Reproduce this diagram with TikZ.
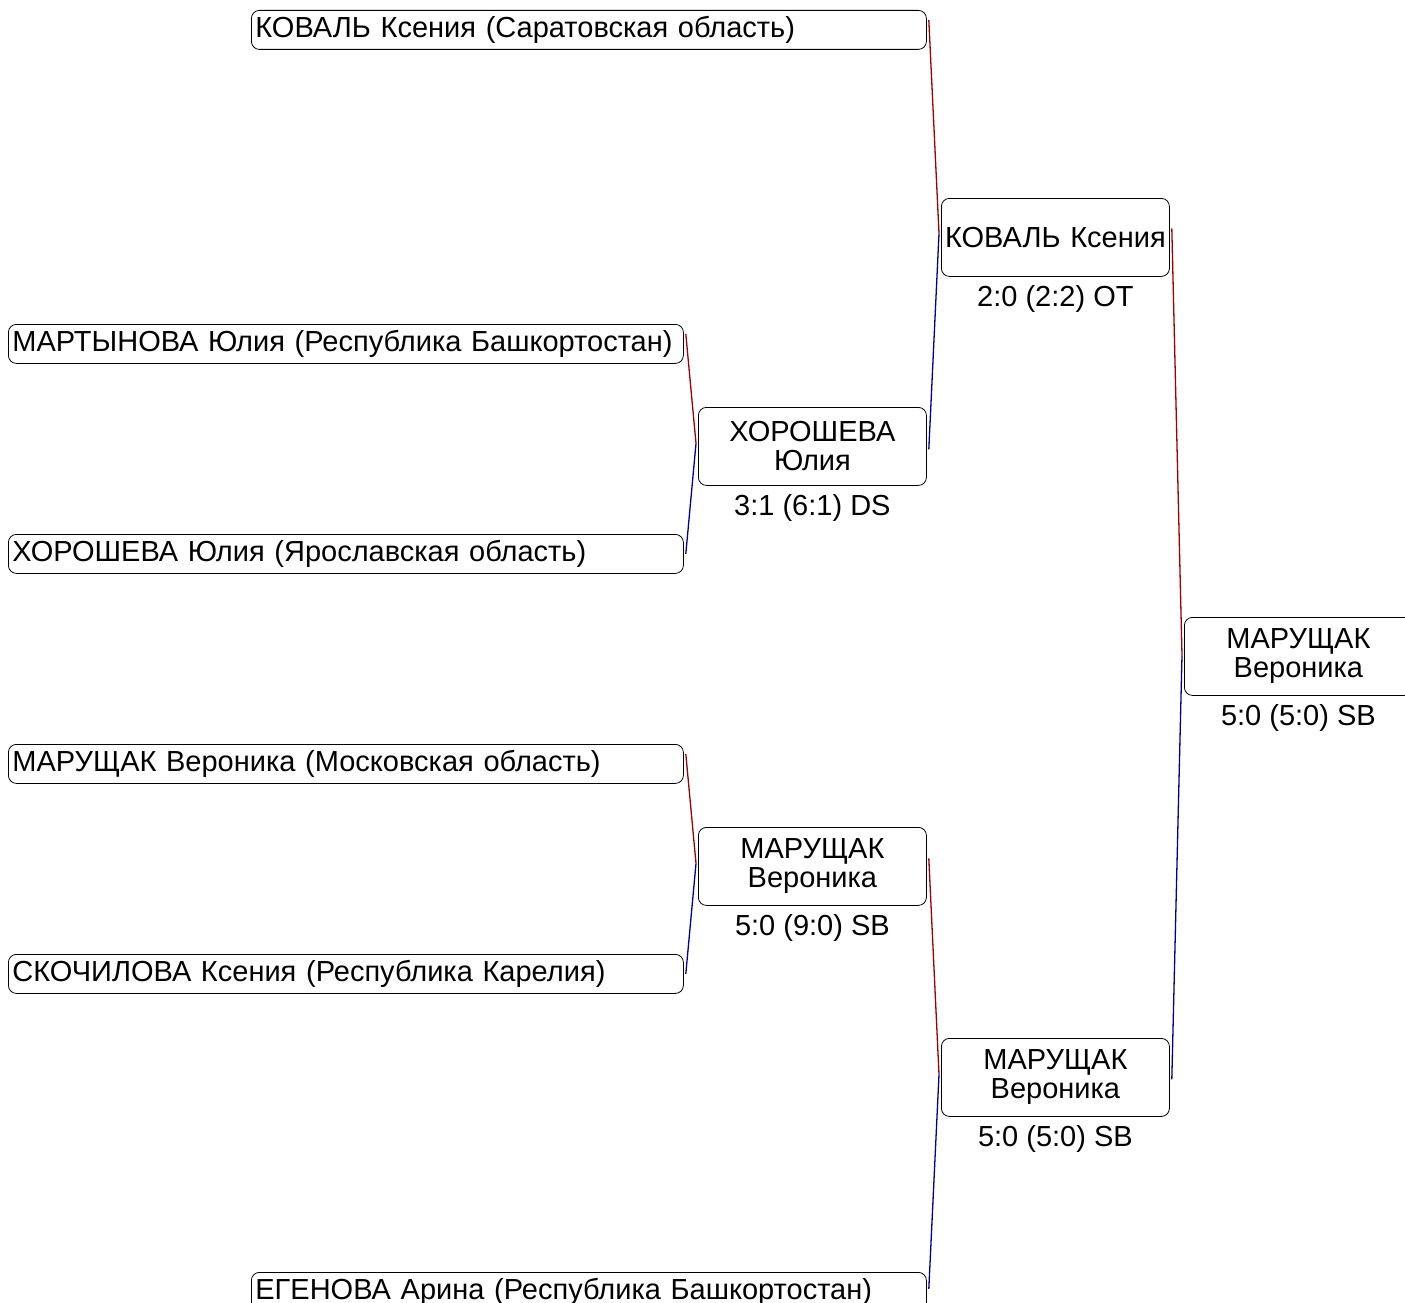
\documentclass[tikz,border=0pt]{standalone}
\usepackage{fontspec}
\setmainfont{Liberation Sans}
\begin{document}
\begin{tikzpicture}[x=1pt,y=-1pt,
  font=\fontsize{29}{29}\selectfont,
  entry/.style={draw, rounded corners=8pt, line width=0.8pt, anchor=north west,
    minimum height=39pt, text width=667pt, inner xsep=4pt, inner ysep=0pt, align=left},
  winbox/.style={draw, rounded corners=8pt, line width=0.8pt, anchor=north west,
    minimum height=78pt, text width=226pt, inner xsep=1pt, inner ysep=0pt, align=center},
  score/.style={anchor=base, inner sep=0pt},
  redline/.style={draw=red!62!black, line width=1.3pt},
  blueline/.style={draw=blue!58!black, line width=1.3pt}]
\useasboundingbox (0,0) rectangle (1405,1303);
\clip (0,0) rectangle (1405,1303);
% round 1 entries
\node[entry] (e1) at (251,10) {КОВАЛЬ Ксения (Саратовская область)};
\node[entry] (e2) at (8,324) {МАРТЫНОВА Юлия (Республика Башкортостан)};
\node[entry] (e3) at (8,534) {ХОРОШЕВА Юлия (Ярославская область)};
\node[entry] (e4) at (8,744) {МАРУЩАК Вероника (Московская область)};
\node[entry] (e5) at (8,954) {СКОЧИЛОВА Ксения (Республика Карелия)};
\node[entry] (e6) at (251,1272) {ЕГЕНОВА Арина (Республика Башкортостан)};
% winners
\node[winbox] (w1) at (698,407) {ХОРОШЕВА\\Юлия};
\node[winbox] (w2) at (698,827) {МАРУЩАК\\Вероника};
\node[winbox] (w3) at (941,198) {КОВАЛЬ Ксения};
\node[winbox] (w4) at (941,1038) {МАРУЩАК\\Вероника};
\node[winbox] (w5) at (1184,617) {МАРУЩАК\\Вероника};
% scores
\node[score] (s1) at ([yshift=-30pt]w1.south) {3:1 (6:1) DS};
\node[score] (s2) at ([yshift=-30pt]w2.south) {5:0 (9:0) SB};
\node[score] (s3) at ([yshift=-30pt]w3.south) {2:0 (2:2) OT};
\node[score] (s4) at ([yshift=-30pt]w4.south) {5:0 (5:0) SB};
\node[score] (s5) at ([yshift=-30pt]w5.south) {5:0 (5:0) SB};
% connectors
\draw[redline] ([xshift=2pt,yshift=10pt]e2.east) -- ([xshift=-2pt,yshift=3pt]w1.west);
\draw[blueline] ([xshift=-2pt,yshift=3pt]w1.west) -- ([xshift=2pt]e3.east);
\draw[redline] ([xshift=2pt,yshift=10pt]e4.east) -- ([xshift=-2pt,yshift=3pt]w2.west);
\draw[blueline] ([xshift=-2pt,yshift=3pt]w2.west) -- ([xshift=2pt]e5.east);
\draw[redline] ([xshift=2pt,yshift=10pt]e1.east) -- ([xshift=-2pt,yshift=4pt]w3.west);
\draw[blueline] ([xshift=-2pt,yshift=4pt]w3.west) -- ([xshift=2pt,yshift=-3pt]w1.east);
\draw[redline] ([xshift=2pt,yshift=8pt]w2.east) -- ([xshift=-2pt,yshift=3pt]w4.west);
\draw[blueline] ([xshift=-2pt,yshift=3pt]w4.west) -- ([xshift=2pt,yshift=3pt]e6.east);
\draw[redline] ([xshift=2pt,yshift=9pt]w3.east) -- ([xshift=-2pt,yshift=1pt]w5.west);
\draw[blueline] ([xshift=-2pt,yshift=1pt]w5.west) -- ([xshift=2pt,yshift=-2pt]w4.east);
\end{tikzpicture}
\end{document}
